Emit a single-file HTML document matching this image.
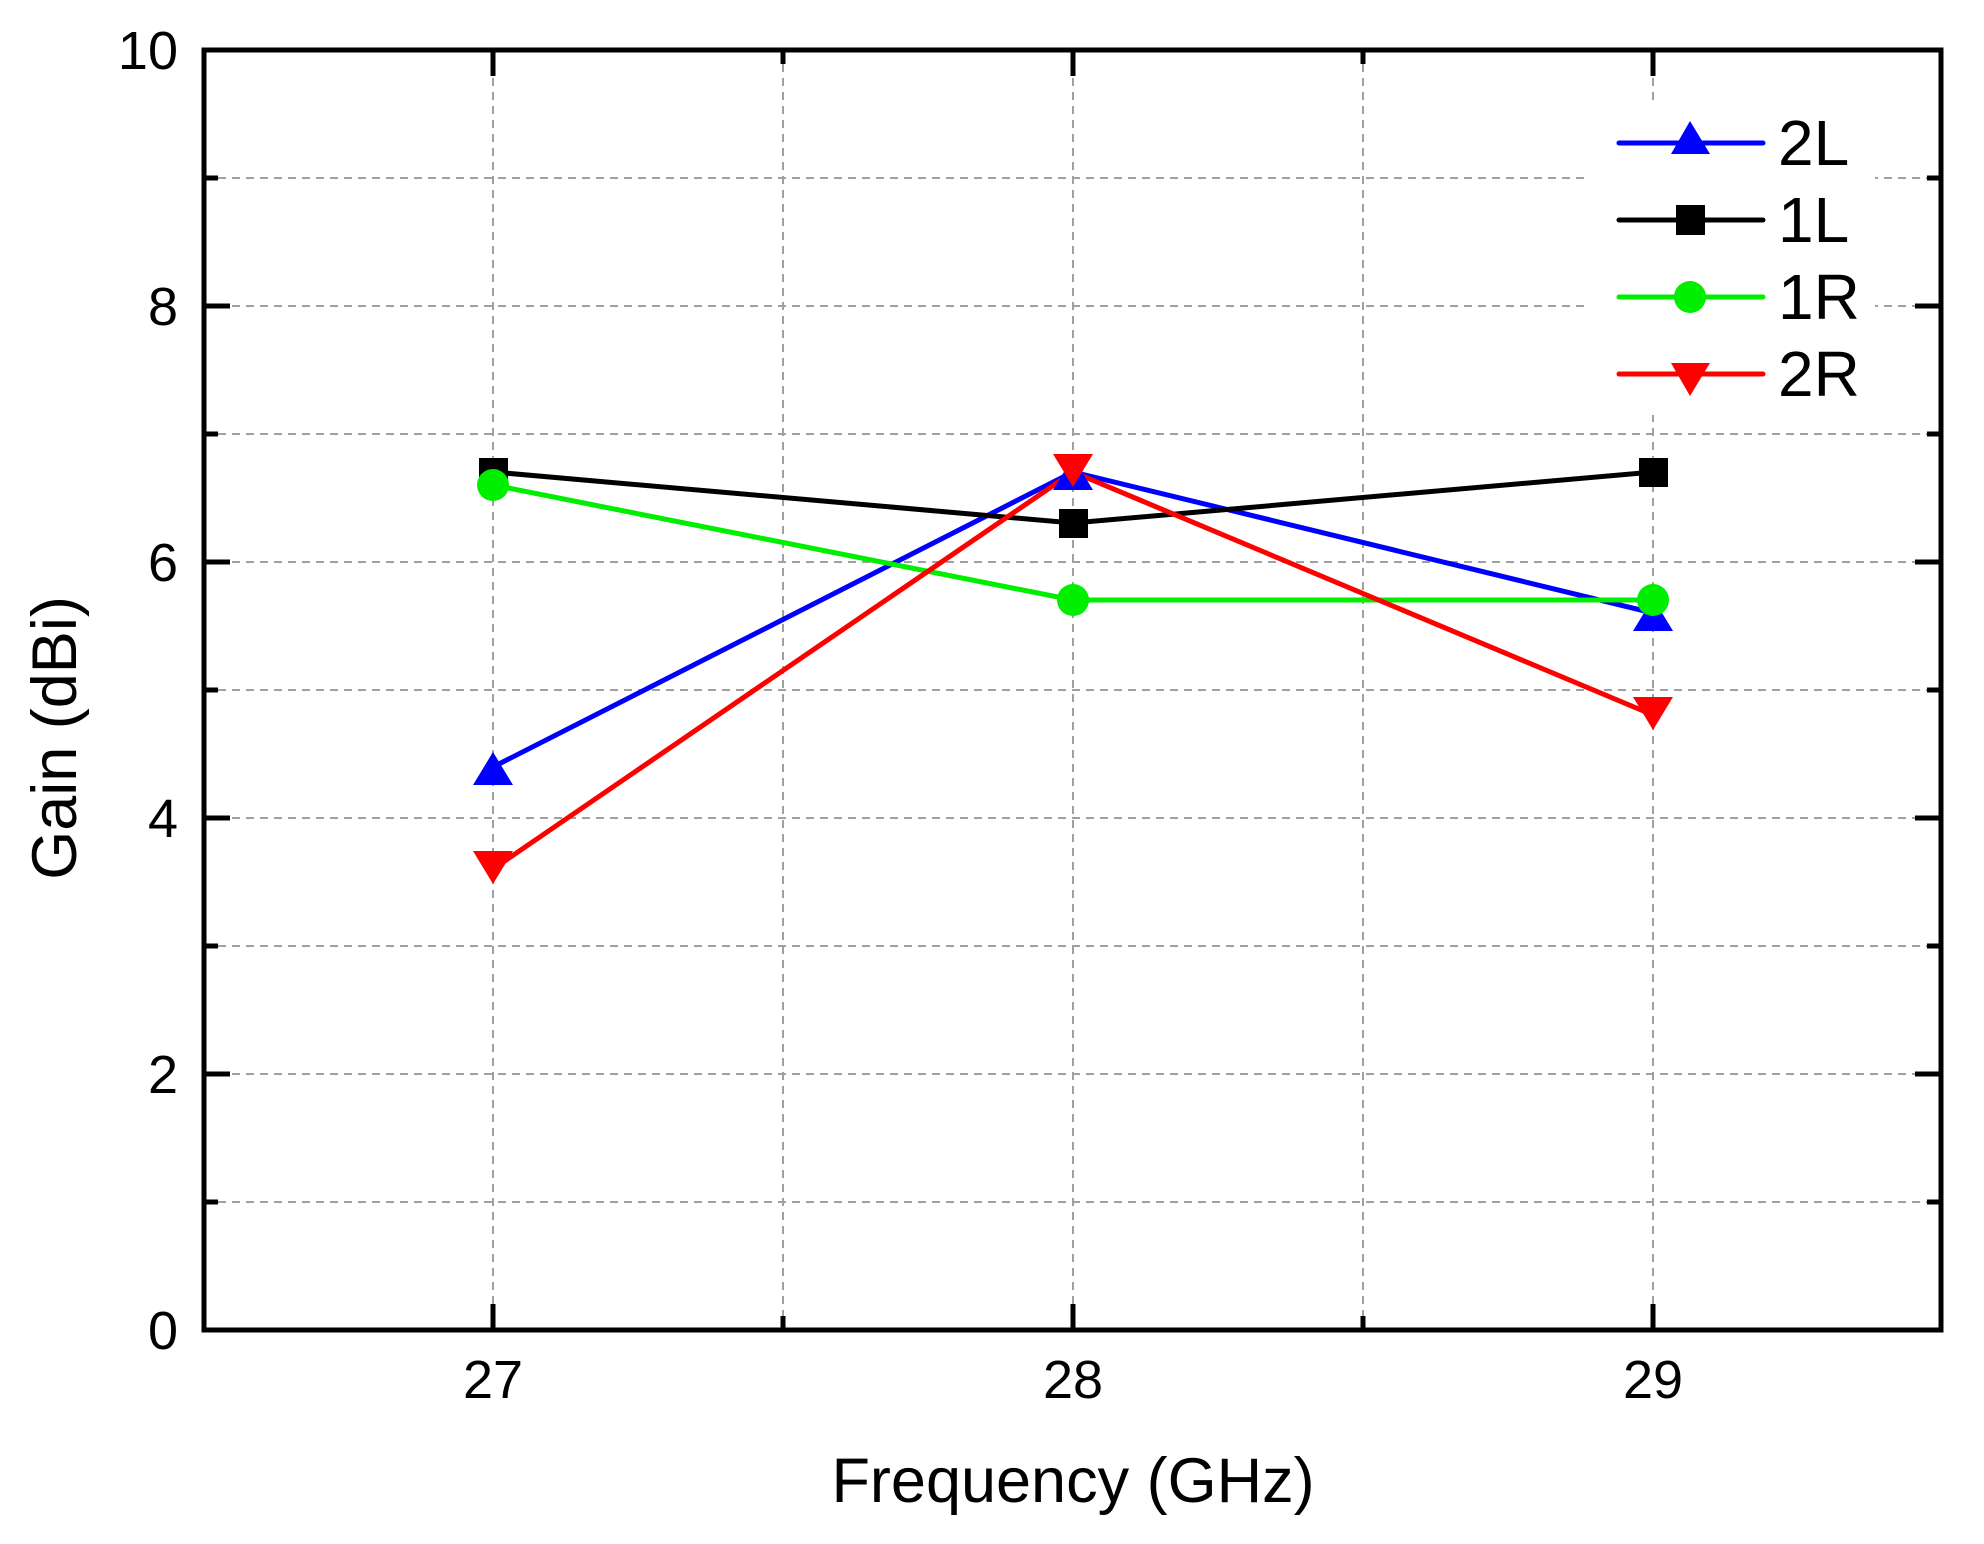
<!DOCTYPE html>
<html><head><style>body{margin:0;background:#fff}</style></head><body>
<svg width="1984" height="1539" xmlns="http://www.w3.org/2000/svg" font-family="Liberation Sans, Arial, sans-serif">
<g stroke="#a0a0a0" stroke-width="2" stroke-dasharray="8,6">
<line x1="204" x2="1941" y1="1202" y2="1202"/><line x1="204" x2="1941" y1="1074" y2="1074"/>
<line x1="204" x2="1941" y1="946" y2="946"/><line x1="204" x2="1941" y1="818" y2="818"/>
<line x1="204" x2="1941" y1="690" y2="690"/><line x1="204" x2="1941" y1="562" y2="562"/>
<line x1="204" x2="1941" y1="434" y2="434"/><line x1="204" x2="1941" y1="306" y2="306"/>
<line x1="204" x2="1941" y1="178" y2="178"/>
<line x1="493" x2="493" y1="50" y2="1330"/><line x1="783" x2="783" y1="50" y2="1330"/>
<line x1="1073" x2="1073" y1="50" y2="1330"/><line x1="1363" x2="1363" y1="50" y2="1330"/>
<line x1="1653" x2="1653" y1="50" y2="1330"/>
</g>
<rect x="1585" y="100" width="290" height="315" fill="#fff"/>
<g stroke="#000" stroke-width="5">
<line x1="204" x2="230" y1="1074" y2="1074"/><line x1="1941" x2="1915" y1="1074" y2="1074"/>
<line x1="204" x2="230" y1="818" y2="818"/><line x1="1941" x2="1915" y1="818" y2="818"/>
<line x1="204" x2="230" y1="562" y2="562"/><line x1="1941" x2="1915" y1="562" y2="562"/>
<line x1="204" x2="230" y1="306" y2="306"/><line x1="1941" x2="1915" y1="306" y2="306"/>
<line x1="204" x2="218" y1="1202" y2="1202"/><line x1="1941" x2="1927" y1="1202" y2="1202"/>
<line x1="204" x2="218" y1="946" y2="946"/><line x1="1941" x2="1927" y1="946" y2="946"/>
<line x1="204" x2="218" y1="690" y2="690"/><line x1="1941" x2="1927" y1="690" y2="690"/>
<line x1="204" x2="218" y1="434" y2="434"/><line x1="1941" x2="1927" y1="434" y2="434"/>
<line x1="204" x2="218" y1="178" y2="178"/><line x1="1941" x2="1927" y1="178" y2="178"/>
<line x1="493" x2="493" y1="1330" y2="1304"/><line x1="1073" x2="1073" y1="1330" y2="1304"/><line x1="1653" x2="1653" y1="1330" y2="1304"/>
<line x1="783" x2="783" y1="1330" y2="1316"/><line x1="1363" x2="1363" y1="1330" y2="1316"/>
<line x1="493" x2="493" y1="50" y2="76"/><line x1="1073" x2="1073" y1="50" y2="76"/><line x1="1653" x2="1653" y1="50" y2="76"/>
<line x1="783" x2="783" y1="50" y2="64"/><line x1="1363" x2="1363" y1="50" y2="64"/>
</g>
<rect x="204" y="50" width="1737" height="1280" fill="none" stroke="#000" stroke-width="5"/>
<g font-size="54" text-anchor="end">
<text x="178" y="1349">0</text><text x="178" y="1093">2</text><text x="178" y="837">4</text>
<text x="178" y="581">6</text><text x="178" y="325">8</text><text x="178" y="69">10</text>
</g>
<g font-size="54" text-anchor="middle">
<text x="493" y="1398">27</text><text x="1073" y="1398">28</text><text x="1653" y="1398">29</text>
</g>
<text x="1073" y="1502" font-size="63" text-anchor="middle">Frequency (GHz)</text>
<text transform="translate(76,738) rotate(-90)" font-size="63" text-anchor="middle">Gain (dBi)</text>
<g fill="none" stroke-width="5" stroke-linejoin="round">
<polyline stroke="#0000ff" points="493,767 1073,472 1653,613"/>
<polyline stroke="#000" points="493,472 1073,523 1653,472"/>
<polyline stroke="#00ee00" points="493,485 1073,600 1653,600"/>
<polyline stroke="#ff0000" points="493,869 1073,472 1653,715"/>
</g>
<g fill="#0000ff">
<polygon points="493,752 473,785 513,785"/><polygon points="1073,457 1053,490 1093,490"/><polygon points="1653,598 1633,631 1673,631"/>
</g>
<g fill="#000">
<rect x="479" y="458" width="29" height="29"/><rect x="1059" y="509" width="29" height="29"/><rect x="1639" y="458" width="29" height="29"/>
</g>
<g fill="#00ee00">
<circle cx="493" cy="485" r="16"/><circle cx="1073" cy="600" r="16"/><circle cx="1653" cy="600" r="16"/>
</g>
<g fill="#ff0000">
<polygon points="493,884 473,851 513,851"/><polygon points="1073,487 1053,454 1093,454"/><polygon points="1653,730 1633,697 1673,697"/>
</g>
<g stroke-width="5" stroke-linecap="round">
<line x1="1619" x2="1763" y1="143" y2="143" stroke="#0000ff"/>
<line x1="1619" x2="1763" y1="220" y2="220" stroke="#000"/>
<line x1="1619" x2="1763" y1="297" y2="297" stroke="#00ee00"/>
<line x1="1619" x2="1763" y1="374" y2="374" stroke="#ff0000"/>
</g>
<polygon points="1690,121 1671,154 1710,154" fill="#0000ff"/>
<rect x="1676" y="205" width="29" height="30" fill="#000"/>
<circle cx="1690" cy="297" r="16" fill="#00ee00"/>
<polygon points="1690,396 1671,363 1710,363" fill="#ff0000"/>
<g font-size="64">
<text x="1778" y="165">2L</text><text x="1778" y="242">1L</text>
<text x="1778" y="319">1R</text><text x="1778" y="396">2R</text>
</g>
</svg>
</body></html>
